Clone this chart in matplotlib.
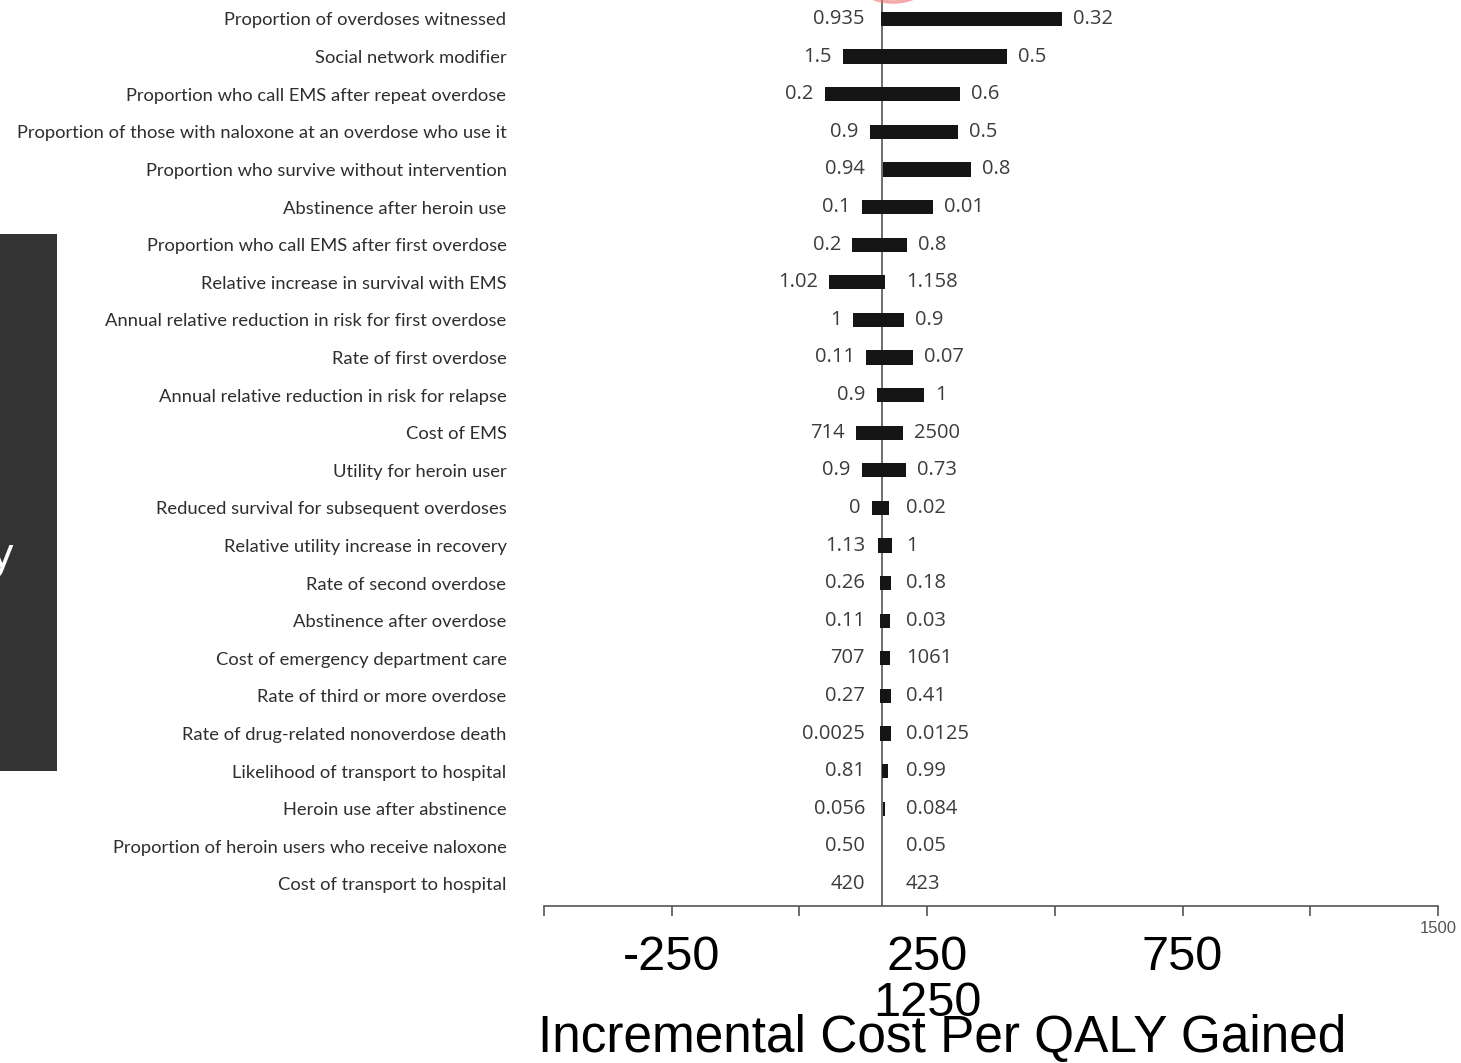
import numpy as np
import matplotlib
matplotlib.use('Agg')
import matplotlib.pyplot as plt
from matplotlib.patches import Rectangle, Ellipse

# tornado diagram data (incremental cost per QALY gained)
params = [
    'Proportion of overdoses witnessed',
    'Social network modifier',
    'Proportion who call EMS after repeat overdose',
    'Proportion of those with naloxone at an overdose who use it',
    'Proportion who survive without intervention',
    'Abstinence after heroin use',
    'Proportion who call EMS after first overdose',
    'Relative increase in survival with EMS',
    'Annual relative reduction in risk for first overdose',
    'Rate of first overdose',
    'Annual relative reduction in risk for relapse',
    'Cost of EMS',
    'Utility for heroin user',
    'Reduced survival for subsequent overdoses',
    'Relative utility increase in recovery',
    'Rate of second overdose',
    'Abstinence after overdose',
    'Cost of emergency department care',
    'Rate of third or more overdose',
    'Rate of drug-related nonoverdose death',
    'Likelihood of transport to hospital',
    'Heroin use after abstinence',
    'Proportion of heroin users who receive naloxone',
    'Cost of transport to hospital',
]
low_vals = [410, 335, 300, 388, 414, 372, 353, 308, 355, 380, 402, 361,
            372, 392, 404, 408, 408, 408, 408, 408, 412, 414, 412, 412]
high_vals = [764, 656, 564, 560, 586, 511, 460, 418, 455, 472, 494, 453,
             459, 425, 431, 429, 427, 427, 429, 429, 423, 418, 412, 412]
low_labels = ['0.935', '1.5', '0.2', '0.9', '0.94', '0.1', '0.2', '1.02', '1',
              '0.11', '0.9', '714', '0.9', '0', '1.13', '0.26', '0.11', '707',
              '0.27', '0.0025', '0.81', '0.056', '0.50', '420']
high_labels = ['0.32', '0.5', '0.6', '0.5', '0.8', '0.01', '0.8', '1.158', '0.9',
               '0.07', '1', '2500', '0.73', '0.02', '1', '0.18', '0.03', '1061',
               '0.41', '0.0125', '0.99', '0.084', '0.05', '423']
base_icer = 412
xticks = [-250, 0, 250, 500, 750, 1000, 1250, 1500]
xtick_labels = ['', '-250', '', '250', '', '750', '', '']

big_font = ['Liberation Sans Narrow', 'Liberation Sans', 'DejaVu Sans']

W, H = 1461, 1063
fig = plt.figure(figsize=(W / 100, H / 100), dpi=100)
fig.patch.set_facecolor('white')

# slide decorations
fig.patches.append(Rectangle((0, 1 - 771 / H), 57 / W, (771 - 234) / H,
                             transform=fig.transFigure, facecolor='#333333',
                             edgecolor='none', zorder=0))
fig.text(14 / W, 1 - 556 / H, 'y', color='white', fontsize=30, ha='right',
         va='center', family='DejaVu Sans')
fig.patches.append(Ellipse((893 / W, 1 + 18 / H), 70 / W, 40 / H,
                           transform=fig.transFigure, facecolor='none',
                           edgecolor='#f07070', lw=2.5, alpha=0.6))

ax = fig.add_axes([544 / W, 1 - 906 / H, (1438 - 544) / W, 906 / H])
y = np.arange(len(params))
lo = np.array(low_vals, dtype=float)
hi = np.array(high_vals, dtype=float)
ax.barh(y, hi - lo, left=lo, height=0.38, color='#151515', edgecolor='none')
ax.axvline(base_icer, color='#555555', lw=1.2, zorder=0)

for i in range(len(params)):
    xl = min(lo[i], base_icer - 12)
    xh = max(hi[i], base_icer + 25)
    ax.annotate(low_labels[i], (xl, y[i]), xytext=(-8, 0), textcoords='offset points',
                ha='right', va='center', fontsize=14.5, color='#3c3c3c',
                family='Open Sans')
    ax.annotate(high_labels[i], (xh, y[i]), xytext=(8, 0), textcoords='offset points',
                ha='left', va='center', fontsize=14.5, color='#3c3c3c',
                family='Open Sans')

ax.set_xlim(-250, 1500)
ax.set_ylim(len(params) - 1 + 0.585, -0.505)
ax.set_yticks(y)
ax.set_yticklabels(params, fontsize=13.2, color='#2e2e2e', family='Lato')
ax.tick_params(axis='y', length=0, pad=27)

ax.set_xticks(xticks)
ax.set_xticklabels(xtick_labels, fontsize=35, family=big_font)
ax.tick_params(axis='x', length=7, width=1.2, color='#555555', pad=14, direction='out')
for s in ['top', 'right', 'left']:
    ax.spines[s].set_visible(False)
ax.spines['bottom'].set_color('#555555')
ax.spines['bottom'].set_linewidth(1.2)

ax.text(500, -0.108, '1250', transform=ax.get_xaxis_transform(), fontsize=35,
        ha='center', va='center', family=big_font, clip_on=False)
ax.text(1500, -0.025, '1500', transform=ax.get_xaxis_transform(), fontsize=12,
        ha='center', va='center', color='#555555', family=big_font, clip_on=False)
fig.text(942 / W, 1 - 1039 / H, 'Incremental Cost Per QALY Gained', fontsize=37,
         ha='center', va='center', family=big_font)

fig.savefig('out.png', dpi=100)
